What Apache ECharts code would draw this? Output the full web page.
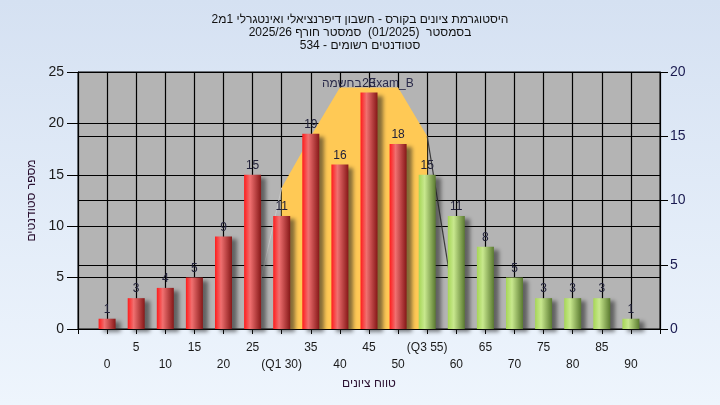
<!DOCTYPE html>
<html>
<head>
<meta charset="utf-8">
<script src="https://cdn.jsdelivr.net/npm/echarts@6/dist/echarts.min.js"></script>
<style>
  html, body { margin: 0; padding: 0; }
  #chart { width: 720px; height: 405px; }
</style>
</head>
<body>
<div id="chart"></div>
<script>
// grade ranges (tick labels), '' pads both ends of the axis
var gradeLabels = ['', '0', '5', '10', '15', '20', '25', '(Q1 30)', '35', '40', '45', '50',
    '(Q3 55)', '60', '65', '70', '75', '80', '85', '90', ''];
// number of students per range
var lowCounts = [null, 1, 3, 4, 5, 9, 15, 11, 19, 16, 23, 18, null, null, null, null, null, null, null, null, null];
var highCounts = [null, null, null, null, null, null, null, null, null, null, null, null, 15, 11, 8, 5, 3, 3, 3, 1, null];
// Exam_B curve (right axis), filled part between Q1 and Q3
var examBArea = [null, null, null, null, null, null, null, 11, 15, 18.8, 18.8, 18.8, 15, null, null, null, null, null, null, null, null];
var examBTailLeft = [null, null, null, null, null, null, 1, 11, null, null, null, null, null, null, null, null, null, null, null, null, null];
var examBTailRight = [null, null, null, null, null, null, null, null, null, null, null, null, 15, 1, null, null, null, null, null, null, null];

var titleText = 'היסטוגרמת ציונים בקורס - חשבון דיפרנציאלי ואינטגרלי 1מ2\nבסמסטר  (01/2025)  סמסטר חורף 2025/26\nסטודנטים רשומים - 534';

var font = 'Liberation Sans, Arial, sans-serif';

var myChart = echarts.init(document.getElementById('chart'));

function barGradient(c0, c1, c2)
{
    return new echarts.graphic.LinearGradient(0, 0, 1, 0, [
        {offset: 0, color: c0},
        {offset: 0.35, color: c1},
        {offset: 1, color: c2}
    ]);
}

var barLabel = {
    show: true,
    position: 'top',
    distance: 3,
    color: '#22223a',
    fontSize: 12,
    fontFamily: font
};

var option = {
    backgroundColor: new echarts.graphic.LinearGradient(0, 0, 0, 1, [
        {offset: 0, color: '#d5e1f2'},
        {offset: 1, color: '#eef5fd'}
    ]),
    animation: false,
    textStyle: {fontFamily: font},
    title: {
        text: titleText,
        left: 'center',
        top: 8,
        textStyle: {
            fontSize: 12,
            fontWeight: 'normal',
            color: '#111',
            lineHeight: 13,
            fontFamily: font
        }
    },
    graphic: [{
        type: 'text',
        left: 322,
        top: 78,
        z: 100,
        style: {
            text: 'בחשמה: Exam_B',
            fontSize: 12,
            fill: '#2a2a4a',
            fontFamily: font
        }
    }],
    grid: {
        left: 78,
        right: 60,
        top: 72,
        bottom: 76,
        show: true,
        backgroundColor: '#b4b4b4',
        borderColor: '#000',
        borderWidth: 1
    },
    xAxis: {
        type: 'category',
        data: gradeLabels,
        boundaryGap: false,
        name: 'טווח ציונים',
        nameLocation: 'middle',
        nameGap: 46,
        nameTextStyle: {fontSize: 12, color: '#2a1030', fontFamily: font},
        axisLine: {lineStyle: {color: '#000', width: 1}},
        axisTick: {show: true, interval: 0, length: 5, lineStyle: {color: '#000'}},
        splitLine: {show: true, interval: 0, lineStyle: {color: '#000', width: 1.2}},
        axisLabel: {
            interval: 0,
            margin: 10,
            fontSize: 12,
            color: '#1a1a1a',
            lineHeight: 17,
            fontFamily: font,
            formatter: function (value, idx)
            {
                if (idx % 2 === 1) {
                    return '\n' + value;
                }
                return value;
            }
        }
    },
    yAxis: [
        {
            type: 'value',
            min: 0,
            max: 25,
            interval: 5,
            name: 'מספר סטודנטים',
            nameLocation: 'middle',
            nameGap: 40,
            nameTextStyle: {fontSize: 12, color: '#2a1030', fontFamily: font},
            axisLine: {show: true, lineStyle: {color: '#000'}},
            axisTick: {show: true, length: 11, lineStyle: {color: '#000'}},
            splitLine: {show: true, lineStyle: {color: '#000', width: 1.2}},
            axisLabel: {fontSize: 14, color: '#1a1a1a', margin: 14, fontFamily: font}
        },
        {
            type: 'value',
            min: 0,
            max: 20,
            interval: 5,
            position: 'right',
            axisLine: {show: true, lineStyle: {color: '#000'}},
            axisTick: {show: true, length: 8, lineStyle: {color: '#000'}},
            splitLine: {show: true, lineStyle: {color: '#000', width: 1.2}},
            axisLabel: {fontSize: 14, color: '#1a1a50', margin: 10, fontFamily: font}
        }
    ],
    series: [
        {
            name: 'Exam_B',
            type: 'line',
            yAxisIndex: 1,
            data: examBArea,
            symbol: 'none',
            lineStyle: {width: 0},
            areaStyle: {color: '#ffc955', opacity: 1},
            z: 1
        },
        {
            type: 'line',
            yAxisIndex: 1,
            data: examBTailLeft,
            symbol: 'none',
            lineStyle: {width: 1, color: '#c8c8c8'},
            z: 1
        },
        {
            type: 'line',
            yAxisIndex: 1,
            data: examBTailRight,
            symbol: 'none',
            lineStyle: {width: 1.2, color: '#3a3a3a'},
            z: 1
        },
        {
            type: 'bar',
            data: lowCounts,
            barWidth: 17,
            barGap: '-100%',
            label: barLabel,
            itemStyle: {
                color: barGradient('#ff1c1c', '#f07070', '#861818'),
                shadowColor: 'rgba(30,30,30,0.55)',
                shadowBlur: 4,
                shadowOffsetX: 5,
                shadowOffsetY: 3
            },
            z: 3
        },
        {
            type: 'bar',
            data: highCounts,
            barWidth: 17,
            barGap: '-100%',
            label: barLabel,
            itemStyle: {
                color: barGradient('#a6d656', '#c8e88e', '#5a7a30'),
                shadowColor: 'rgba(30,30,30,0.55)',
                shadowBlur: 4,
                shadowOffsetX: 5,
                shadowOffsetY: 3
            },
            z: 3
        }
    ]
};

myChart.setOption(option);
</script>
</body>
</html>
